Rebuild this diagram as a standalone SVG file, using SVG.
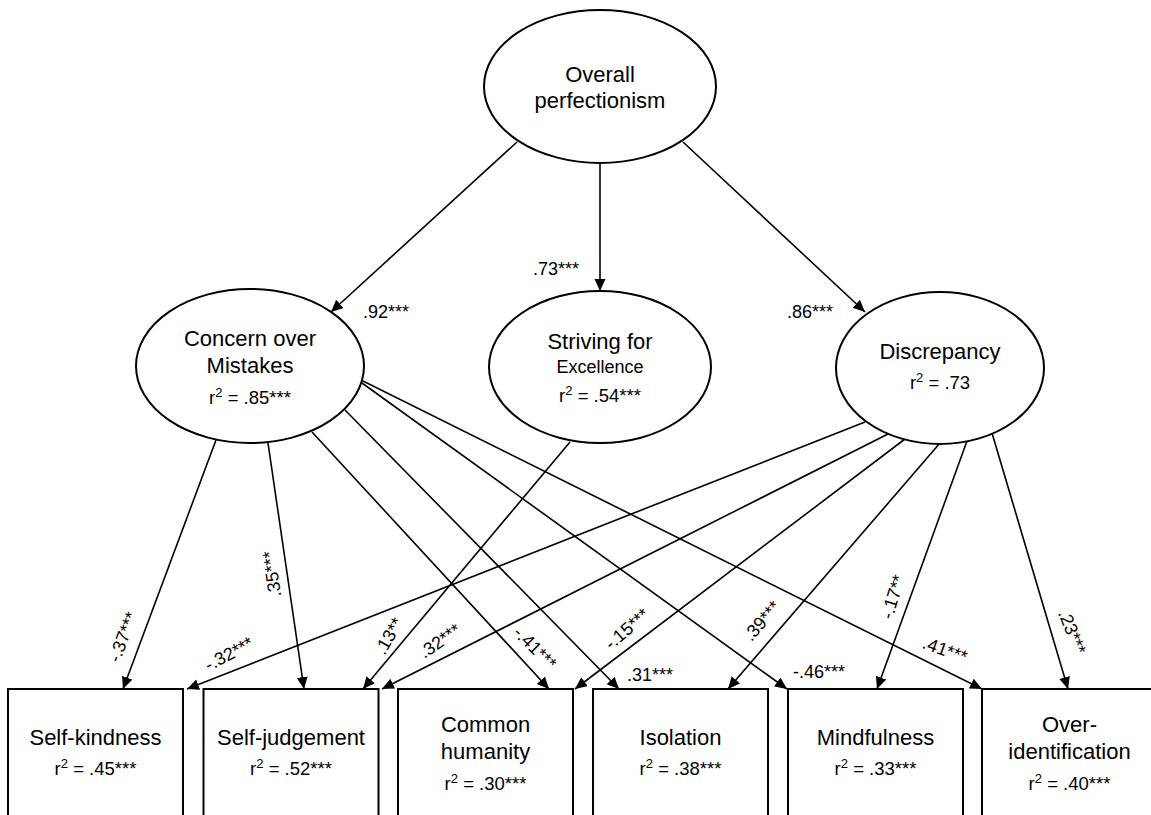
<svg xmlns="http://www.w3.org/2000/svg" width="1151" height="815" viewBox="0 0 1151 815">
<style>
text{font-family:"Liberation Sans",Arial,sans-serif;fill:#000}
.nm{font-size:22px;text-anchor:middle}
.sm{font-size:18px;text-anchor:middle}
.r2{font-size:18.5px;text-anchor:middle}
.lb{font-size:18px}
.lbc{font-size:18px;text-anchor:middle}
.node{fill:#fff;stroke:#000;stroke-width:2}
.edge{stroke:#000;stroke-width:1.6;fill:none;marker-end:url(#ah)}
</style>
<defs>
<marker id="ah" markerUnits="userSpaceOnUse" markerWidth="13" markerHeight="12" refX="12" refY="5.5" orient="auto">
<path d="M0,0 L12,5.5 L0,11 z" fill="#000"/>
</marker>
</defs>
<rect width="1151" height="815" fill="#fff"/>
<g id="connectors">
<line class="edge" x1="517" y1="142" x2="331" y2="312"/>
<line class="edge" x1="600" y1="163" x2="600" y2="291"/>
<line class="edge" x1="683" y1="142" x2="865" y2="312"/>
<line class="edge" x1="216" y1="440" x2="123" y2="689"/>
<line class="edge" x1="268" y1="443" x2="304" y2="689"/>
<line class="edge" x1="312" y1="432" x2="549" y2="689"/>
<line class="edge" x1="345" y1="410" x2="619" y2="689"/>
<line class="edge" x1="362" y1="383" x2="787" y2="689"/>
<line class="edge" x1="363" y1="381" x2="982" y2="689"/>
<line class="edge" x1="570" y1="442" x2="363" y2="689"/>
<line class="edge" x1="865" y1="422" x2="187" y2="689"/>
<line class="edge" x1="890" y1="433" x2="382" y2="689"/>
<line class="edge" x1="905" y1="439" x2="575" y2="689"/>
<line class="edge" x1="940" y1="443" x2="728" y2="689"/>
<line class="edge" x1="967" y1="441" x2="877" y2="689"/>
<line class="edge" x1="992" y1="433" x2="1068" y2="689"/>
<text class="lb" x="363" y="318">.92***</text>
<text class="lb" x="533" y="275">.73***</text>
<text class="lb" x="787" y="318">.86***</text>
<text class="lbc" transform="translate(123,637) rotate(-69)" y="6">-.37***</text>
<text class="lbc" transform="translate(272,574) rotate(-98)" y="6">.35***</text>
<text class="lbc" transform="translate(229,654) rotate(-28)" y="6">-.32***</text>
<text class="lbc" transform="translate(389,636) rotate(-60)" y="6">.13**</text>
<text class="lbc" transform="translate(440,641) rotate(-35)" y="6">.32***</text>
<text class="lbc" transform="translate(535,648) rotate(45)" y="6">-.41***</text>
<text class="lbc" transform="translate(627,629) rotate(-41)" y="6">-.15***</text>
<text class="lb" x="627" y="681">.31***</text>
<text class="lbc" transform="translate(762,621) rotate(-49)" y="6">.39***</text>
<text class="lb" x="793" y="678">-.46***</text>
<text class="lbc" transform="translate(893,597) rotate(-73)" y="6">-.17**</text>
<text class="lbc" transform="translate(945,650) rotate(20)" y="6">.41***</text>
<text class="lbc" transform="translate(1072,632) rotate(68)" y="6">.23***</text>
</g>
<g id="overall">
<ellipse class="node" cx="600" cy="86.5" rx="116" ry="76.5"/>
<text class="nm" x="600" y="82">Overall</text>
<text class="nm" x="600" y="108">perfectionism</text>
</g>
<g id="com">
<ellipse class="node" cx="250" cy="366" rx="114" ry="77"/>
<text class="nm" x="250" y="346">Concern over</text>
<text class="nm" x="250" y="373">Mistakes</text>
<text class="r2" x="250" y="404">r<tspan font-size="13" dy="-7">2</tspan><tspan dy="7"> = .85***</tspan></text>
</g>
<g id="striving">
<ellipse class="node" cx="600" cy="367" rx="111" ry="76"/>
<text class="nm" x="600" y="349">Striving for</text>
<text class="sm" x="600" y="373">Excellence</text>
<text class="r2" x="600" y="402">r<tspan font-size="13" dy="-7">2</tspan><tspan dy="7"> = .54***</tspan></text>
</g>
<g id="discrepancy">
<ellipse class="node" cx="940" cy="368" rx="104" ry="76"/>
<text class="nm" x="940" y="359">Discrepancy</text>
<text class="r2" x="940" y="389">r<tspan font-size="13" dy="-7">2</tspan><tspan dy="7"> = .73</tspan></text>
</g>
<g id="self-kindness">
<rect class="node" x="8" y="689" width="175" height="140"/>
<text class="nm" x="95.5" y="745">Self-kindness</text>
<text class="r2" x="95.5" y="775">r<tspan font-size="13" dy="-7">2</tspan><tspan dy="7"> = .45***</tspan></text>
</g>
<g id="self-judgement">
<rect class="node" x="203.5" y="689" width="175" height="140"/>
<text class="nm" x="291" y="745">Self-judgement</text>
<text class="r2" x="291" y="775">r<tspan font-size="13" dy="-7">2</tspan><tspan dy="7"> = .52***</tspan></text>
</g>
<g id="common-humanity">
<rect class="node" x="398" y="689" width="175" height="140"/>
<text class="nm" x="485.5" y="732">Common</text>
<text class="nm" x="485.5" y="759">humanity</text>
<text class="r2" x="485.5" y="790">r<tspan font-size="13" dy="-7">2</tspan><tspan dy="7"> = .30***</tspan></text>
</g>
<g id="isolation">
<rect class="node" x="593" y="689" width="175" height="140"/>
<text class="nm" x="680.5" y="745">Isolation</text>
<text class="r2" x="680.5" y="775">r<tspan font-size="13" dy="-7">2</tspan><tspan dy="7"> = .38***</tspan></text>
</g>
<g id="mindfulness">
<rect class="node" x="788" y="689" width="175" height="140"/>
<text class="nm" x="875.5" y="745">Mindfulness</text>
<text class="r2" x="875.5" y="775">r<tspan font-size="13" dy="-7">2</tspan><tspan dy="7"> = .33***</tspan></text>
</g>
<g id="over-identification">
<rect class="node" x="982" y="689" width="175" height="140"/>
<text class="nm" x="1069.5" y="732">Over-</text>
<text class="nm" x="1069.5" y="759">identification</text>
<text class="r2" x="1069.5" y="790">r<tspan font-size="13" dy="-7">2</tspan><tspan dy="7"> = .40***</tspan></text>
</g>
</svg>
